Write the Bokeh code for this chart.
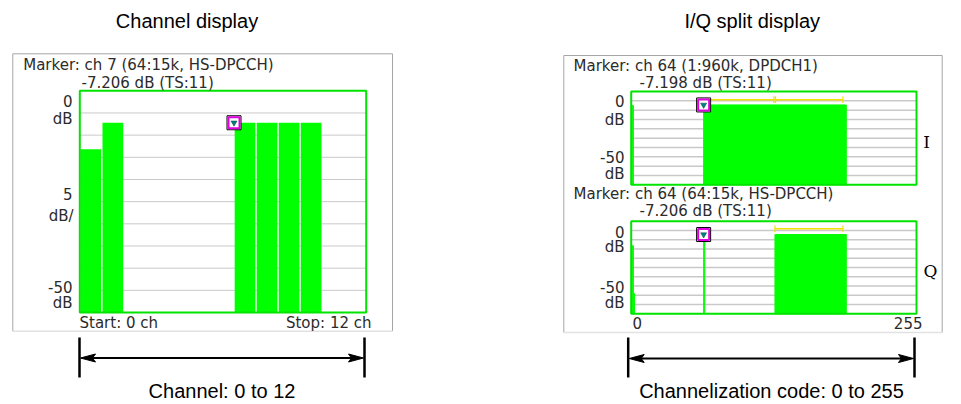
from bokeh.plotting import figure
from bokeh.models import Range1d
from bokeh.core.properties import value
from bokeh.embed import file_html
from bokeh.resources import INLINE

# ---------------- data ----------------
# Channel display (channels 0..12)
channel_count = 13
channels = [0, 1, 7, 8, 9, 10]
channel_db = [-13.2, -7.2, -7.2, -7.2, -7.2, -7.2]
marker_channel = 7
marker_channel_db = -7.206
db_grid = [-5, -10, -15, -20, -25, -30, -35, -40, -45]
db_top, db_bottom = 0, -50

# I/Q split display (channelization codes 0..255)
code_lo, code_hi = -1, 255
i_code_start = [0, 64]
i_code_end = [1, 192]
i_db = [-7.5, -7.198]
q_code_start = [0, 1, 64, 128]
q_code_end = [1, 2, 65, 192]
q_db = [-13.2, -39.0, -7.206, -7.206]
i_marker_code, i_marker_db = 64, -7.198
q_marker_code, q_marker_db = 64, -7.206
i_rate_span = [64, 189]
i_rate_mid = 127
i_rate_db = -4.4
q_rate_span = [128, 189]
q_rate_db = -4.1

# ---------------- layout ----------------
W, H = 945, 402
X0, Y0 = 0, 0
GREEN = "#00ff00"
FRAME = "#00e400"
GRID = "#c9c9c9"
TXT = "#2b2b2b"
CF = value("DejaVu Sans")
CFS = "15px"
TF = value("Liberation Sans")
TFS = "20px"

p = figure(width=W, height=H, output_backend="svg", toolbar_location=None,
           x_range=Range1d(X0, X0 + W), y_range=Range1d(Y0 + H, Y0),
           x_axis_type=None, y_axis_type=None, min_border=0,
           background_fill_color="white", border_fill_color="white")
p.outline_line_color = None
p.grid.visible = False


def add_x(name, v0, v1, p0, p1):
    k = (v1 - v0) / (p1 - p0)
    p.extra_x_ranges[name] = Range1d(v0 + (X0 - p0) * k, v0 + (X0 + W - p0) * k)


def add_y(name, v0, v1, p0, p1):
    k = (v1 - v0) / (p1 - p0)
    p.extra_y_ranges[name] = Range1d(v0 + (Y0 + H - p0) * k, v0 + (Y0 - p0) * k)


add_x("ch", 0, channel_count, 79.3, 365.7)
add_y("ch", db_top, db_bottom, 90.3, 312.0)
add_x("code", code_lo, code_hi, 630.7, 916.0)
add_y("i", db_top, db_bottom, 91.0, 184.3)
add_y("q", db_top, db_bottom, 220.7, 313.3)


def txt(x, y, s, align="left", font=CF, size=CFS, color=TXT, baseline="middle"):
    p.text(x=[x], y=[y], text=[s], text_align=align, text_baseline=baseline,
           text_font=font, text_font_size=size, text_color=color)


def box(l, t, r, b):
    p.segment(x0=[l, l, r], y0=[b, t, t], x1=[l, r, r], y1=[t, t, b],
              line_color="#a6a6a6", line_width=1)
    p.segment(x0=[l], y0=[b], x1=[r], y1=[b], line_color="#e2e2e2", line_width=1.5)


def bracket(xl, xr, yt, yb, ya):
    p.segment(x0=[xl, xr], y0=[yt, yt], x1=[xl, xr], y1=[yb, yb],
              line_color="black", line_width=2.5)
    p.segment(x0=[xl + 8], y0=[ya], x1=[xr - 8], y1=[ya], line_color="black", line_width=2)
    p.patches(xs=[[xl + 1, xl + 16, xl + 13, xl + 16], [xr - 1, xr - 16, xr - 13, xr - 16]],
              ys=[[ya, ya - 4, ya, ya + 4], [ya, ya - 4, ya, ya + 4]],
              fill_color="black", line_color="black", line_width=1)


def marker(x, y, xr, yr):
    p.scatter(x=[x], y=[y], marker="square", size=14, fill_color="white",
              line_color="black", line_width=1, x_range_name=xr, y_range_name=yr)
    p.scatter(x=[x], y=[y], marker="square", size=11, fill_color=None,
              line_color="#e000e0", line_width=2, x_range_name=xr, y_range_name=yr)
    p.scatter(x=[x], y=[y], marker="inverted_triangle", size=6, fill_color="#008080",
              line_color="#004040", line_width=0.5, x_range_name=xr, y_range_name=yr)


# ---------------- Channel display ----------------
box(12.3, 53.3, 392, 330.7)
p.segment(x0=[0] * len(db_grid), x1=[channel_count] * len(db_grid), y0=db_grid, y1=db_grid,
          line_color=GRID, line_width=1, x_range_name="ch", y_range_name="ch")
p.vbar(x=[c + 0.5 for c in channels], width=0.94, top=channel_db,
       bottom=[db_bottom] * len(channels), fill_color=GREEN, line_color=None,
       x_range_name="ch", y_range_name="ch")
p.quad(left=[0], right=[channel_count], top=[db_top], bottom=[db_bottom],
       fill_color=None, line_color=FRAME, line_width=2, x_range_name="ch", y_range_name="ch")
marker(marker_channel, marker_channel_db, "ch", "ch")

txt(186.5, 20.5, "Channel display", "center", TF, TFS, "black")
txt(22.7, 64, "Marker: ch 7 (64:15k, HS-DPCCH)")
txt(81, 82, "-7.206 dB (TS:11)")
txt(72, 100, "0", "right")
txt(72, 118, "dB", "right")
txt(72, 193, "5", "right")
txt(73, 215, "dB/", "right")
txt(72, 286, "-50", "right")
txt(72, 302, "dB", "right")
txt(79, 322, "Start: 0 ch")
txt(371, 322, "Stop: 12 ch", "right")
bracket(79, 364, 337, 377, 357.5)
txt(221.5, 390.5, "Channel: 0 to 12", "center", TF, TFS, "black")

# ---------------- I/Q split display ----------------
box(563.3, 55, 941.7, 332)
for yr, starts, ends, dbs in (("i", i_code_start, i_code_end, i_db),
                              ("q", q_code_start, q_code_end, q_db)):
    p.segment(x0=[code_lo] * len(db_grid), x1=[code_hi] * len(db_grid), y0=db_grid, y1=db_grid,
              line_color=GRID, line_width=1.5, x_range_name="code", y_range_name=yr)
    p.quad(left=starts, right=ends, top=dbs, bottom=[db_bottom] * len(dbs),
           fill_color=GREEN, line_color=GREEN, line_width=1,
           x_range_name="code", y_range_name=yr)
    p.quad(left=[code_lo], right=[code_hi], top=[db_top], bottom=[db_bottom],
           fill_color=None, line_color=FRAME, line_width=2,
           x_range_name="code", y_range_name=yr)

# symbol-rate indicators (yellow)
YEL = "#f0e000"
p.segment(x0=[i_rate_span[0]], x1=[i_rate_span[1]], y0=[i_rate_db], y1=[i_rate_db],
          line_color=YEL, line_width=1.5, x_range_name="code", y_range_name="i")
p.segment(x0=[i_rate_span[1], i_rate_mid, i_rate_mid + 1.5],
          x1=[i_rate_span[1], i_rate_mid, i_rate_mid + 1.5],
          y0=[i_rate_db - 1.8] * 3, y1=[i_rate_db + 1.8] * 3,
          line_color=YEL, line_width=1.2, x_range_name="code", y_range_name="i")
p.segment(x0=[q_rate_span[0]], x1=[q_rate_span[1]], y0=[q_rate_db], y1=[q_rate_db],
          line_color=YEL, line_width=1.5, x_range_name="code", y_range_name="q")
p.segment(x0=q_rate_span, x1=q_rate_span, y0=[q_rate_db - 1.8] * 2, y1=[q_rate_db + 1.8] * 2,
          line_color=YEL, line_width=1.2, x_range_name="code", y_range_name="q")

marker(i_marker_code, i_marker_db, "code", "i")
marker(q_marker_code, q_marker_db, "code", "q")

txt(751.7, 20.5, "I/Q split display", "center", TF, TFS, "black")
txt(573, 65, "Marker: ch 64 (1:960k, DPDCH1)")
txt(639, 82, "-7.198 dB (TS:11)")
txt(624, 100, "0", "right")
txt(624, 119, "dB", "right")
txt(624, 156, "-50", "right")
txt(624, 173, "dB", "right")
txt(573, 193, "Marker: ch 64 (64:15k, HS-DPCCH)")
txt(639, 210, "-7.206 dB (TS:11)")
txt(624, 231, "0", "right")
txt(624, 246, "dB", "right")
txt(624, 286, "-50", "right")
txt(624, 302, "dB", "right")
txt(926, 141, "I", "center", value("DejaVu Serif"), "17px", "black")
txt(930, 270, "Q", "center", value("DejaVu Serif"), "17px", "black")
txt(632, 322, "0")
txt(922, 322, "255", "right")
bracket(627.7, 914, 337, 377, 358)
txt(771, 390.5, "Channelization code: 0 to 255", "center", TF, TFS, "black")

open("out.html", "w").write(file_html(p, INLINE))
